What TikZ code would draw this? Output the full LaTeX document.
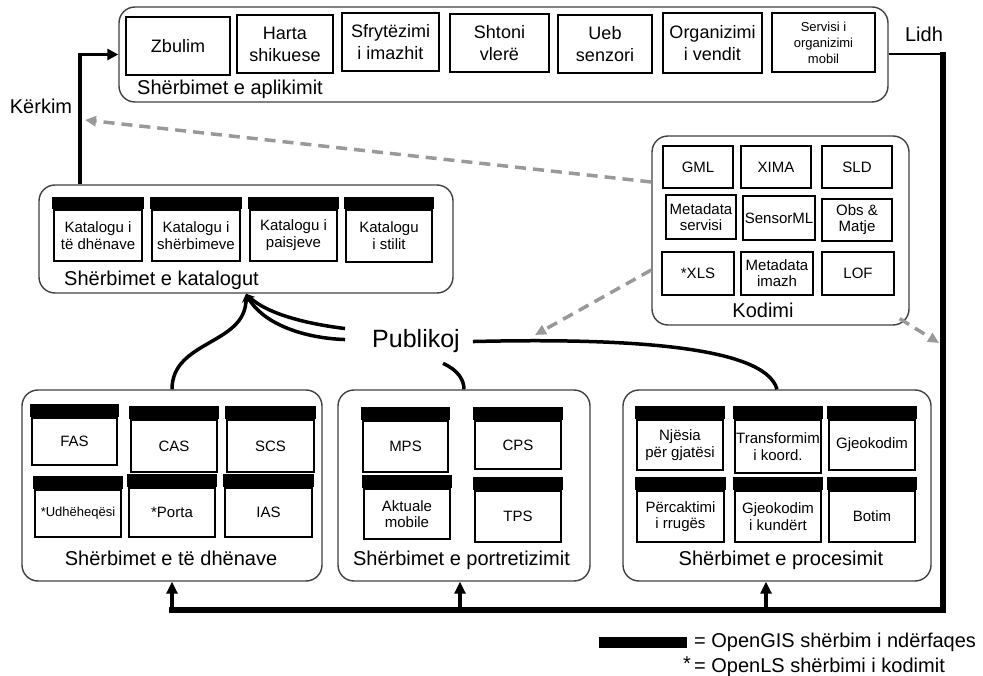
\documentclass[tikz,border=0pt]{standalone}
\usepackage{fontspec}
\setmainfont{Liberation Sans}
\usetikzlibrary{arrows.meta}
\newcommand{\grpfont}{\fontsize{20}{24}\selectfont}
\newcommand{\topfont}{\fontsize{18}{22}\selectfont}
\newcommand{\smlfont}{\fontsize{13}{16}\selectfont}
\newcommand{\catfont}{\fontsize{15}{17}\selectfont}
\newcommand{\kodfont}{\fontsize{15}{16}\selectfont}
\newcommand{\svcfont}{\fontsize{15}{16.5}\selectfont}
\newcommand{\pubfont}{\fontsize{25}{30}\selectfont}
\tikzset{grp/.style = {draw=black!75, line width=1.4pt, rounded corners=16pt, rectangle},
         box/.style = {draw, line width=1.6pt, rectangle, inner sep=1pt, align=center},
         svc/.style = {box, append after command={\pgfextra{\fill ([xshift=-0.8pt]\tikzlastnode.north west) rectangle ([xshift=0.8pt,yshift=#1]\tikzlastnode.north east);}}},
         svc/.default = 13pt,
         lbl/.style = {inner sep=0pt, font=\grpfont},
         wire/.style = {line width=3.5pt},
         up/.style = {wire, -{Triangle[length=12pt,width=11pt]}},
         tip/.style = {wire, -{Stealth[length=9pt,width=8pt]}},
         hint/.style = {draw=black!40, line width=3.5pt, dash pattern=on 11pt off 7pt, -{Triangle[length=11pt,width=10pt]}}}

\begin{document}
\begin{tikzpicture}[x=1pt, y=-1pt]
    \useasboundingbox (0,0) rectangle (983,676);
    % groups
    \node[grp, minimum width=769, minimum height=95](app)at(503.5,54.5){};
    \node[grp, minimum width=414, minimum height=108](cat)at(246,239){};
    \node[grp, minimum width=257, minimum height=189](kod)at(780.5,230.5){};
    \node[grp, minimum width=300, minimum height=191](dat)at(172,485.5){};
    \node[grp, minimum width=252, minimum height=191](prt)at(464,485.5){};
    \node[grp, minimum width=308, minimum height=191](prc)at(777,485.5){};
    % application services
    \node[box, font=\topfont, minimum width=104, minimum height=58](zb)at(178,46){Zbulim};
    \node[box, font=\topfont, minimum width=96, minimum height=58](hs)at(285,44){Harta\\shikuese};
    \node[box, font=\topfont, minimum width=97, minimum height=58](si)at(390.5,42){Sfrytëzimi\\i imazhit};
    \node[box, font=\topfont, minimum width=99, minimum height=58](sv)at(499.5,43){Shtoni\\vlerë};
    \node[box, font=\topfont, minimum width=94, minimum height=58](us)at(605,44){Ueb\\senzori};
    \node[box, font=\topfont, minimum width=99, minimum height=60](ov)at(712.5,43){Organizimi\\i vendit};
    \node[box, font=\smlfont, minimum width=103, minimum height=59](so)at(823.5,42.5){Servisi i\\organizimi\\mobil};
    \node[lbl, anchor=base west](appl)at(137,95){Shërbimet e aplikimit};
    % catalog services
    \node[svc=12pt, font=\catfont, minimum width=88, minimum height=51](kd)at(98,235.5){Katalogu i\\të dhënave};
    \node[svc=12pt, font=\catfont, minimum width=88, minimum height=51](ks)at(196,235.5){Katalogu i\\shërbimeve};
    \node[svc=12pt, font=\catfont, minimum width=87, minimum height=51](kp)at(293.5,235.5){Katalogu i\\paisjeve};
    \node[svc=12pt, font=\catfont, minimum width=86, minimum height=52](kt)at(389,236){Katalogu\\i stilit};
    \node[lbl, anchor=base west](catl)at(64,286){Shërbimet e katalogut};
    % encodings
    \node[box, font=\kodfont, minimum width=70, minimum height=42](gml)at(698,167){GML};
    \node[box, font=\kodfont, minimum width=70, minimum height=42](xima)at(776,167){XIMA};
    \node[box, font=\kodfont, minimum width=70, minimum height=42](sld)at(857,167){SLD};
    \node[box, font=\kodfont, minimum width=70, minimum height=44](mds)at(701,217){Metadata\\servisi};
    \node[box, font=\kodfont, minimum width=72, minimum height=44](sml)at(779,218){SensorML};
    \node[box, font=\kodfont, minimum width=70, minimum height=42](obs)at(857,220){Obs \&\\Matje};
    \node[box, font=\kodfont, minimum width=72, minimum height=43](xls)at(698,273.5){*XLS};
    \node[box, font=\kodfont, minimum width=72, minimum height=43](mdi)at(777,273.5){Metadata\\imazh};
    \node[box, font=\kodfont, minimum width=72, minimum height=43](lof)at(858,273.5){LOF};
    \node[lbl, anchor=base](kodl)at(763,318){Kodimi};
    % data services
    \node[svc, font=\svcfont, minimum width=85, minimum height=47](fas)at(74.5,441.5){FAS};
    \node[svc, font=\svcfont, minimum width=86, minimum height=52](cas)at(174,446){CAS};
    \node[svc, font=\svcfont, minimum width=87, minimum height=52](scs)at(270.5,446){SCS};
    \node[svc, font=\smlfont, minimum width=86, minimum height=47](udh)at(78,513.5){*Udhëheqësi};
    \node[svc, font=\svcfont, minimum width=86, minimum height=49](por)at(172,512.5){*Porta};
    \node[svc, font=\svcfont, minimum width=87, minimum height=49](ias)at(268.5,512.5){IAS};
    \node[lbl, anchor=base](datl)at(171,565){Shërbimet e të dhënave};
    % portrayal services
    \node[svc, font=\svcfont, minimum width=85, minimum height=51](mps)at(405.5,446.5){MPS};
    \node[svc, font=\svcfont, minimum width=86, minimum height=48](cps)at(518,445){CPS};
    \node[svc, font=\svcfont, minimum width=86, minimum height=50](akm)at(407,514){Aktuale\\mobile};
    \node[svc, font=\svcfont, minimum width=86, minimum height=51](tps)at(518,516.5){TPS};
    \node[lbl, anchor=base](prtl)at(461.5,565){Shërbimet e portretizimit};
    % processing services
    \node[svc, font=\svcfont, minimum width=86, minimum height=50](njg)at(680,445){Njësia\\për gjatësi};
    \node[svc, font=\svcfont, minimum width=86, minimum height=53](trk)at(778,446.5){Transformim\\i koord.};
    \node[svc, font=\svcfont, minimum width=86, minimum height=50](gjk)at(872,445){Gjeokodim};
    \node[svc, font=\svcfont, minimum width=87, minimum height=51](prr)at(680.5,516.5){Përcaktimi\\i rrugës};
    \node[svc, font=\svcfont, minimum width=86, minimum height=51](gkk)at(778,516.5){Gjeokodim\\i kundërt};
    \node[svc, font=\svcfont, minimum width=86, minimum height=51](bot)at(872,516.5){Botim};
    \node[lbl, anchor=base](prcl)at(781,565){Shërbimet e procesimit};
    % publish
    \node[inner xsep=13pt, inner ysep=3pt, font=\pubfont, anchor=base](pub)at(416,348){Publikoj};
    \draw[tip](dat.north) .. controls (172,340) and (246,345) .. (cat.south);
    \draw[tip]([xshift=-14pt,yshift=13pt]pub.west) .. controls (300,323) and (265,312) .. (cat.south);
    \draw[tip]([xshift=-14pt,yshift=2pt]pub.west) .. controls (300,338) and (262,322) .. (cat.south);
    \draw[wire](pub.east) .. controls (620,338) and (765,345) .. (prc.north);
    \draw[wire]([xshift=27pt,yshift=-7pt]pub.south) .. controls (458,370) and (464,380) .. (prt.north);
    % search and bind
    \coordinate (kk) at (80,54.5);
    \draw[wire, -{Triangle[length=11pt,width=11pt]}](cat.north -| kk) -- (kk) -- (app.west);
    \node[lbl, anchor=base](kerk)at(41,114){Kërkim};
    \coordinate (lk) at (943,54.5);
    \coordinate (bb) at (943,610);
    \draw[line width=2pt](app.east) -- (lk);
    \draw[line width=6.5pt, line cap=rect]([yshift=-1pt]lk) -- (bb) -- (bb -| dat.south);
    \node[lbl, anchor=base](lidh)at(924,42){Lidh};
    \draw[up](bb -| dat.south) -- (dat.south);
    \draw[up]([xshift=-4pt]prt.south |- bb) -- ([xshift=-4pt]prt.south);
    \draw[up]([xshift=-11pt]prc.south |- bb) -- ([xshift=-11pt]prc.south);
    % encoding hints
    \coordinate (kq) at (85,120);
    \coordinate (kv) at (535,335);
    \coordinate (kr) at (939,343);
    \draw[hint]([yshift=48.5pt]kod.west) -- (kq);
    \draw[hint]([yshift=-39.5pt]kod.west) -- (kv);
    \draw[hint]([xshift=-10pt,yshift=7pt]kod.south east) -- (kr);
    % legend
    \fill (599,637) rectangle (687,648);
    \node[lbl, anchor=base west](lg1)at(694,647){= OpenGIS shërbim i ndërfaqes};
    \node[lbl, anchor=base](lgs)at(687,670){*};
    \node[lbl, anchor=base west](lg2)at(694,672){= OpenLS shërbimi i kodimit};
\end{tikzpicture}
\end{document}
